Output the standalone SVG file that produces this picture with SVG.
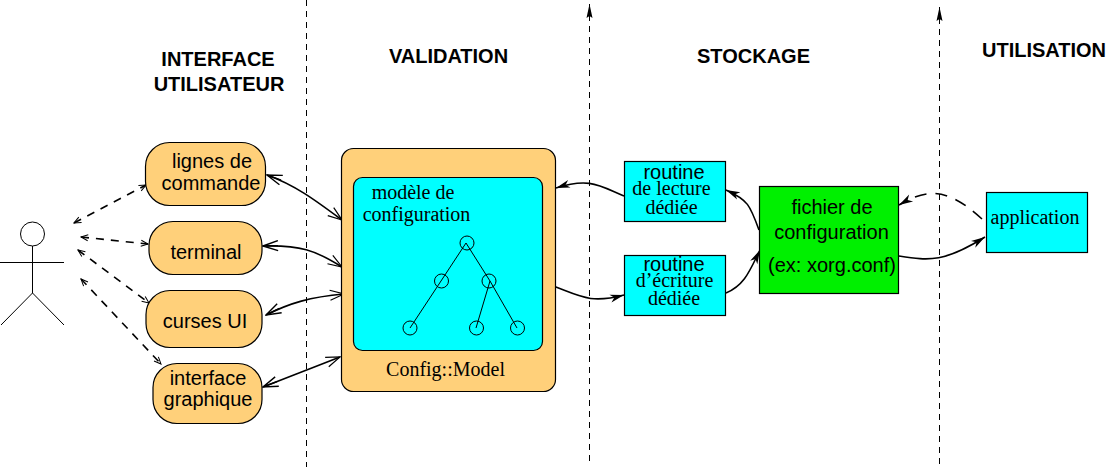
<svg xmlns="http://www.w3.org/2000/svg" width="1108" height="471" viewBox="0 0 1108 471">
<style>
text{font-family:"Liberation Sans",Arial,sans-serif;fill:#000}
.h{font-size:20px;font-weight:bold;text-anchor:middle}
.s{font-size:20px;text-anchor:middle}
.t{font-family:"Liberation Serif","Times New Roman",serif;font-size:20px;text-anchor:middle}
.o{fill:#ffd07a;stroke:#000;stroke-width:1.2}
.c{fill:#00ffff;stroke:#000;stroke-width:1.2}
.l{fill:none;stroke:#000;stroke-width:1}
.a{fill:none;stroke:#000;stroke-width:1.6}
.d{stroke-dasharray:8 7}
.v{fill:none;stroke:#000;stroke-width:1;stroke-dasharray:6 5}
</style>
<defs>
<marker id="ah" markerUnits="userSpaceOnUse" markerWidth="18" markerHeight="12" refX="16" refY="6" orient="auto"><path d="M2 2L16 6L2 10L6 6Z" fill="#000"/></marker>
<marker id="as" markerUnits="userSpaceOnUse" markerWidth="18" markerHeight="12" refX="1" refY="6" orient="auto"><path d="M16 1L1 6L16 11M1 6L16 6" fill="none" stroke="#000" stroke-width="1.4"/></marker>
<marker id="oe" markerUnits="userSpaceOnUse" markerWidth="18" markerHeight="12" refX="16" refY="6" orient="auto"><path d="M2 1L16 6L2 11" fill="none" stroke="#000" stroke-width="1.2"/></marker>
<marker id="ss" markerUnits="userSpaceOnUse" markerWidth="10" markerHeight="8" refX="1" refY="4" orient="auto"><path d="M8 1L1 4L8 7" fill="none" stroke="#000" stroke-width="1"/></marker>
<marker id="se" markerUnits="userSpaceOnUse" markerWidth="10" markerHeight="8" refX="9" refY="4" orient="auto"><path d="M2 1L9 4L2 7" fill="none" stroke="#000" stroke-width="1"/></marker>
<marker id="u" markerUnits="userSpaceOnUse" markerWidth="16" markerHeight="8" refX="15" refY="4" orient="auto"><path d="M1 1L15 4L1 7L3 4Z" fill="#000"/></marker>
</defs>
<g id="connectors">
<path class="v" d="M306.500 0V467"/>
<path class="v" d="M589.500 461V4" marker-end="url(#u)"/>
<path class="v" d="M939.500 464V7" marker-end="url(#u)"/>
<path class="a d" d="M74 223L146 185" marker-start="url(#ss)" marker-end="url(#se)"/>
<path class="a d" d="M81 237L148 244" marker-start="url(#ss)" marker-end="url(#se)"/>
<path class="a d" d="M78 250L149 303" marker-start="url(#ss)" marker-end="url(#se)"/>
<path class="a d" d="M81 279L161 364" marker-start="url(#ss)" marker-end="url(#se)"/>
<path class="a" d="M267 175C295 185 315 200 342 220" marker-start="url(#as)" marker-end="url(#oe)"/>
<path class="a" d="M263 246C300 245 315 250 342 267" marker-start="url(#as)" marker-end="url(#oe)"/>
<path class="a" d="M266 315C290 303 310 297 344 294" marker-start="url(#as)" marker-end="url(#oe)"/>
<path class="a" d="M263 387L340 357" marker-start="url(#as)" marker-end="url(#oe)"/>
<path class="a" d="M624 196C600 186 590 177 556 188" marker-end="url(#ah)"/>
<path class="a" d="M553 286C580 296 590 304 624 295" marker-end="url(#ah)"/>
<path class="a" d="M759 230C750 205 748 200 726 190" marker-end="url(#ah)"/>
<path class="a" d="M726 293C745 285 750 270 760 250" marker-end="url(#ah)"/>
<path class="a" d="M899 256C930 261 945 262 985 237" marker-end="url(#ah)"/>
<path class="a" d="M982 219C945 185 925 190 899 205" stroke-dasharray="12 9" marker-end="url(#ah)"/>
</g>
<g id="actor">
<circle class="l" cx="32.500" cy="234" r="12"/>
<path class="l" d="M32.500 246V293M0 262.500H64M32.500 293L1 325M32.500 293L64 325"/>
</g>
<g id="n-lignes"><rect class="o" x="145.500" y="142.500" width="120" height="63" rx="24"/><text class="s" x="212" y="168">lignes de</text><text class="s" x="211" y="190">commande</text></g>
<g id="n-terminal"><rect class="o" x="149" y="221.500" width="113" height="53" rx="24"/><text class="s" x="206" y="259">terminal</text></g>
<g id="n-curses"><rect class="o" x="146" y="290.500" width="116" height="57" rx="24"/><text class="s" x="205" y="328">curses UI</text></g>
<g id="n-graphique"><rect class="o" x="153" y="363.500" width="109" height="60" rx="24"/><text class="s" x="208" y="385">interface</text><text class="s" x="208" y="406">graphique</text></g>
<g id="n-model">
<rect class="o" x="341.500" y="148.500" width="214" height="243" rx="12"/>
<rect class="c" x="353.500" y="177.500" width="189" height="173" rx="9"/>
<text class="t" x="413" y="199">modèle de</text>
<text class="t" x="416.500" y="221">configuration</text>
<text class="t" x="445.500" y="376">Config::Model</text>
<path class="l" d="M466 243L441 281L410 328M466 243L490 281L517 328M490 281L476 328"/>
<circle class="l" cx="467" cy="243" r="7"/><circle class="l" cx="441.500" cy="281" r="7"/><circle class="l" cx="489" cy="281" r="7"/><circle class="l" cx="410" cy="328" r="7"/><circle class="l" cx="476.500" cy="328" r="7"/><circle class="l" cx="517.500" cy="328" r="7"/>
</g>
<g id="n-lecture"><rect class="c" x="624.500" y="161.500" width="101" height="60"/><text class="s" x="674" y="179">routine</text><text class="t" x="671.500" y="195">de lecture</text><text class="t" x="671.500" y="214">dédiée</text></g>
<g id="n-ecriture"><rect class="c" x="624.500" y="255.500" width="101" height="60"/><text class="s" x="674" y="271">routine</text><text class="t" x="674.500" y="287">d’écriture</text><text class="t" x="674" y="305">dédiée</text></g>
<g id="n-fichier"><rect x="759.500" y="186.500" width="139" height="107" fill="#00f000" stroke="#000" stroke-width="1.2"/><text class="s" x="832" y="214">fichier de</text><text class="s" x="831.500" y="239">configuration</text><text class="s" x="832" y="272">(ex: xorg.conf)</text></g>
<g id="n-application"><rect class="c" x="986.500" y="192.500" width="101" height="60"/><text class="t" x="1035" y="224">application</text></g>
<g id="labels">
<text class="h" x="218" y="66">INTERFACE</text>
<text class="h" x="219" y="91">UTILISATEUR</text>
<text class="h" x="448.500" y="63">VALIDATION</text>
<text class="h" x="753.500" y="63">STOCKAGE</text>
<text class="h" x="1044" y="57">UTILISATION</text>
</g>
</svg>
